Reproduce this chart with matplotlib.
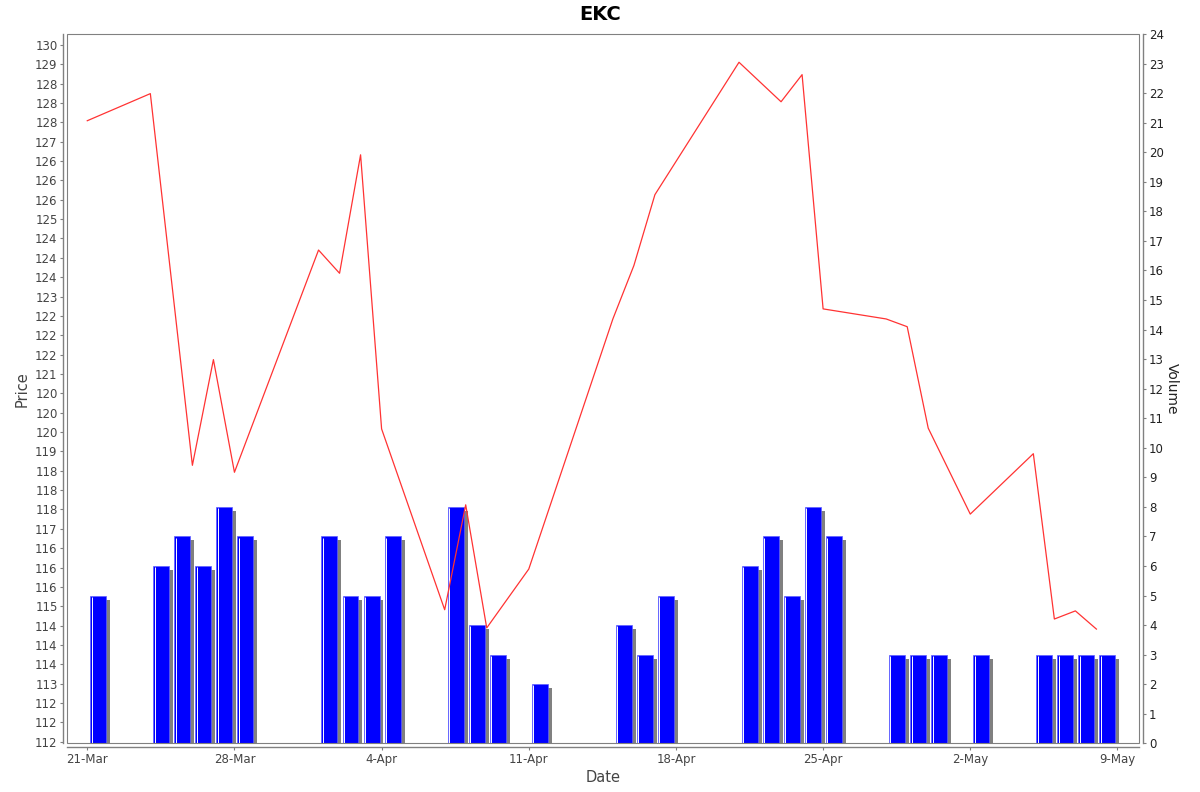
import matplotlib
matplotlib.use("Agg")
import matplotlib.pyplot as plt
import matplotlib.dates as mdates
from matplotlib.patches import Rectangle
from matplotlib.ticker import FuncFormatter
import numpy as np
import pandas as pd

# closing price (red line)
price_dates = ["2014-03-21", "2014-03-24", "2014-03-26", "2014-03-27", "2014-03-28",
               "2014-04-01", "2014-04-02", "2014-04-03", "2014-04-04", "2014-04-07",
               "2014-04-08", "2014-04-09", "2014-04-11", "2014-04-15", "2014-04-16",
               "2014-04-17", "2014-04-21", "2014-04-23", "2014-04-24", "2014-04-25",
               "2014-04-28", "2014-04-29", "2014-04-30", "2014-05-02", "2014-05-05",
               "2014-05-06", "2014-05-07", "2014-05-08"]
price = [127.54, 128.24, 118.64, 121.37, 118.46,
         124.20, 123.60, 126.66, 119.58, 114.91,
         117.62, 114.44, 115.96, 122.42, 123.80,
         125.63, 129.05, 128.03, 128.73, 122.68,
         122.42, 122.22, 119.60, 117.38, 118.94,
         114.67, 114.88, 114.41]

# volume (blue bars)
vol_dates = ["2014-03-21", "2014-03-24", "2014-03-25", "2014-03-26", "2014-03-27",
             "2014-03-28", "2014-04-01", "2014-04-02", "2014-04-03", "2014-04-04",
             "2014-04-07", "2014-04-08", "2014-04-09", "2014-04-11", "2014-04-15",
             "2014-04-16", "2014-04-17", "2014-04-21", "2014-04-22", "2014-04-23",
             "2014-04-24", "2014-04-25", "2014-04-28", "2014-04-29", "2014-04-30",
             "2014-05-02", "2014-05-05", "2014-05-06", "2014-05-07", "2014-05-08"]
volume = [5, 6, 7, 6, 8,
          7, 7, 5, 5, 7,
          8, 4, 3, 2, 4,
          3, 5, 6, 7, 5,
          8, 7, 3, 3, 3,
          3, 3, 3, 3, 3]

px = mdates.date2num(pd.to_datetime(price_dates))
vx = mdates.date2num(pd.to_datetime(vol_dates))
vol = np.array(volume, dtype=float)

grey = "#808080"
txt = "#444444"

fig = plt.figure(figsize=(12, 7.92), dpi=100)
ax = fig.add_axes([67.3 / 1200, 1 - 743.3 / 792, (1139.3 - 67.3) / 1200, (743.3 - 34) / 792])
ax2 = ax.twinx()

# volume bars with drop shadow
ax2.bar(vx + 0.33, vol - 0.136, width=0.76, align="edge", color=grey, linewidth=0)
ax2.bar(vx + 0.14, vol, width=0.76, align="edge", color="#0000ff",
        edgecolor="#6060ff", linewidth=0.5)
ax2.vlines(vx + 0.205, 0, vol - 0.04, color="white", linewidth=0.7)
ax2.set_ylim(0, 24)
ax2.set_yticks(range(0, 25))
ax2.tick_params(axis="y", labelsize=8.5, colors=grey, labelcolor="#222222",
                length=2, width=0.8, pad=2)
ax2.set_ylabel("Volume", rotation=270, fontsize=10, color="#222222", labelpad=11)

# price line on top of the bars
ax.set_zorder(ax2.get_zorder() + 1)
ax.patch.set_visible(False)
ax.plot(px, price, color="#ff3333", linewidth=0.9)
ax.set_ylim(111.46, 129.78)
ax.set_yticks(np.arange(111.5, 129.51, 0.5))
ax.yaxis.set_major_formatter(FuncFormatter(lambda v, p: str(int(round(round(v * 2) / 2)))))
ax.tick_params(axis="y", labelsize=8.5, colors=grey, labelcolor=txt,
               length=2, width=0.8, pad=2)
ax.set_ylabel("Price", fontsize=10.5, color=txt, labelpad=4)

ax.set_xlim(mdates.date2num(pd.Timestamp("2014-03-20")) + 0.05,
            mdates.date2num(pd.Timestamp("2014-05-10")) + 0.04)
ax.set_xticks(mdates.date2num(pd.date_range("2014-03-21", "2014-05-09", freq="7D")))
ax.xaxis.set_major_formatter(FuncFormatter(
    lambda v, p: "{}-{}".format(mdates.num2date(v).day, mdates.num2date(v).strftime("%b"))))
ax.tick_params(axis="x", labelsize=8.5, colors=grey, labelcolor=txt,
               length=2, width=0.8, pad=2)
ax.set_xlabel("Date", fontsize=10.5, color=txt, labelpad=3)

for a in (ax, ax2):
    for s in a.spines.values():
        s.set_visible(False)
ax.spines["left"].set_visible(True)
ax.spines["left"].set_position(("outward", 3))
ax.spines["bottom"].set_visible(True)
ax.spines["bottom"].set_position(("outward", 3))
ax2.spines["right"].set_visible(True)
ax2.spines["right"].set_position(("outward", 3))
for s in (ax.spines["left"], ax.spines["bottom"], ax2.spines["right"]):
    s.set_color(grey)
    s.set_linewidth(1)

# plot outline
ax.add_patch(Rectangle((0, 0), 1, 1, transform=ax.transAxes, fill=False,
                       edgecolor=grey, linewidth=0.8, clip_on=False, zorder=5))

fig.text(0.5, 1 - 14 / 792, "EKC", ha="center", va="center",
         fontsize=14, fontweight="bold")

fig.savefig("out.png", dpi=100)
